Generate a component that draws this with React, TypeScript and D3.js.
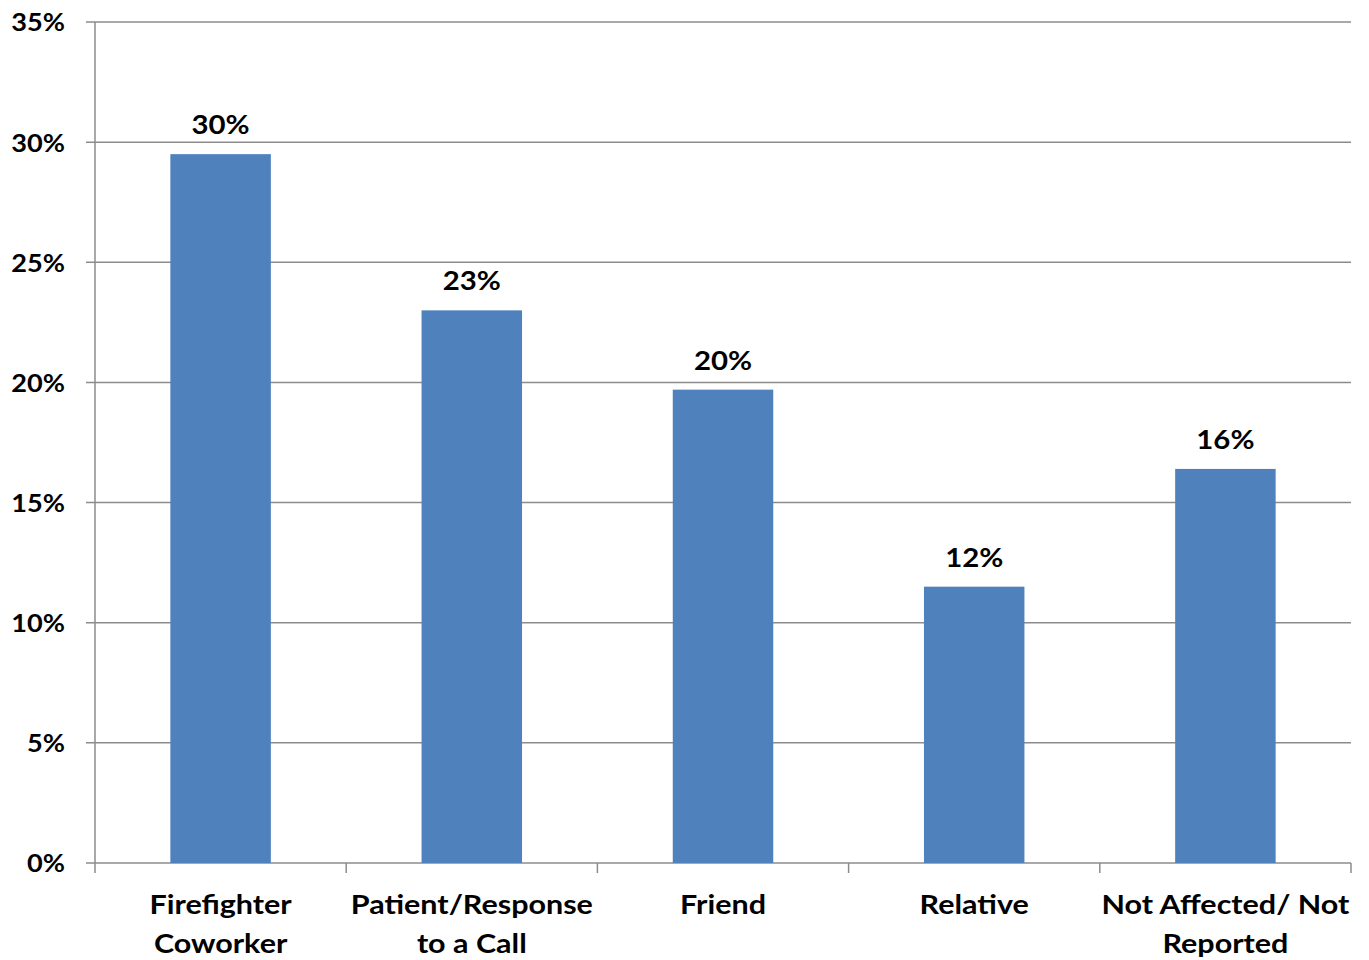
import React from "react";
import * as d3 from "d3";

// Share of respondents by who was affected
const categories: string[][] = [
  ["Firefighter", "Coworker"],
  ["Patient/Response", "to a Call"],
  ["Friend"],
  ["Relative"],
  ["Not Affected/ Not", "Reported"],
];
const values: number[] = [29.5, 23.0, 19.7, 11.5, 16.4];
const yTicks: number[] = [0, 5, 10, 15, 20, 25, 30, 35];

const W = 1369;
const H = 960;
const left = 95;
const right = 1351;
const top = 22;
const bottom = 863;
const font = "Lato, 'Open Sans', sans-serif";
// horizontal stretch for the wide bold lettering
const sx = 1.13;

export default function App() {
  const keys = categories.map((c, i) => String(i));
  const x = d3
    .scaleBand<string>()
    .domain(keys)
    .range([left, right])
    .paddingInner(0.6)
    .paddingOuter(0.3);
  const y = d3.scaleLinear().domain([0, 35]).range([bottom, top]);
  const step = x.step();
  const boundaries = d3.range(categories.length + 1).map((i) => left + i * step);
  const cx = (i: number) => (x(String(i)) as number) + x.bandwidth() / 2;

  return (
    <svg
      width={W}
      height={H}
      style={{ position: "absolute", left: 0, top: 0, background: "#fff" }}
      fontFamily={font}
      fontWeight={700}
    >
      {/* horizontal gridlines with small ticks left of the axis */}
      {yTicks.map((t) => (
        <g key={t}>
          <line x1={left - 9} x2={right} y1={y(t)} y2={y(t)} stroke="#8c8c8c" strokeWidth={1.5} />
          <text
            transform={`translate(65,${y(t)}) scale(${sx},1)`}
            textAnchor="end"
            dominantBaseline="central"
            fontSize={24}
            fill="#000"
          >
            {t}%
          </text>
        </g>
      ))}
      {/* y axis */}
      <line x1={left} x2={left} y1={top} y2={bottom} stroke="#8c8c8c" strokeWidth={1.5} />
      {/* category boundary ticks */}
      {boundaries.map((bx, i) => (
        <line key={i} x1={bx} x2={bx} y1={bottom} y2={bottom + 10} stroke="#8c8c8c" strokeWidth={1.5} />
      ))}
      {/* bars */}
      {values.map((v, i) => (
        <rect
          key={i}
          x={x(String(i))}
          y={y(v)}
          width={x.bandwidth()}
          height={y(0) - y(v)}
          fill="#4f81bd"
        />
      ))}
      {/* value labels */}
      {values.map((v, i) => (
        <text
          key={i}
          transform={`translate(${cx(i)},${y(v) - 20}) scale(${sx},1)`}
          textAnchor="middle"
          fontSize={26}
          fill="#000"
        >
          {Math.round(v)}%
        </text>
      ))}
      {/* category labels */}
      {categories.map((lines, i) =>
        lines.map((l, j) => (
          <text
            key={`${i}-${j}`}
            transform={`translate(${cx(i)},${914 + j * 39}) scale(${sx},1)`}
            textAnchor="middle"
            fontSize={27}
            fill="#000"
          >
            {l}
          </text>
        ))
      )}
    </svg>
  );
}
